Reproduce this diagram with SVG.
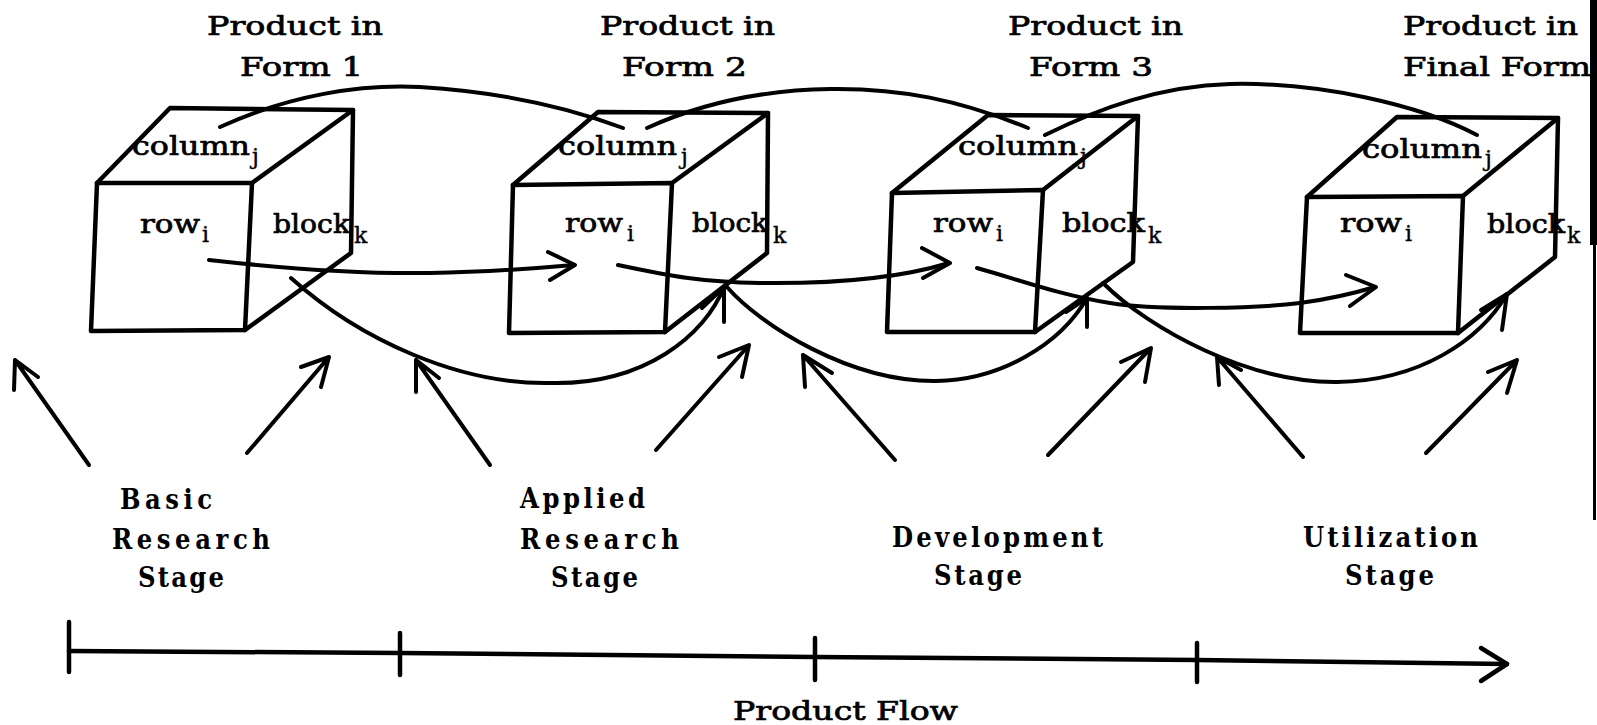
<svg xmlns="http://www.w3.org/2000/svg" width="1597" height="725" viewBox="0 0 1597 725">
<style>
.ln{fill:none;stroke:#000;stroke-width:4.5;stroke-linecap:round;stroke-linejoin:round}
.cn{fill:none;stroke:#000;stroke-width:4;stroke-linecap:round;stroke-linejoin:round}
.t{font-family:'DejaVu Serif','Liberation Serif',serif;font-size:26px;fill:#000;stroke:#000;stroke-width:0.7}
.sub{font-family:'DejaVu Serif','Liberation Serif',serif;font-size:22px;fill:#000;stroke:#000;stroke-width:0.4}
.st{font-family:'DejaVu Serif','Liberation Serif',serif;font-size:27px;font-weight:bold;font-stretch:condensed;fill:#000}
</style>
<rect width="1597" height="725" fill="#fff"/>

<g id="title1">
<text class="t" x="207" y="35" textLength="176" lengthAdjust="spacingAndGlyphs">Product in</text>
<text class="t" x="240" y="76" textLength="123" lengthAdjust="spacingAndGlyphs">Form 1</text>
</g>
<g id="title2">
<text class="t" x="600" y="35" textLength="175" lengthAdjust="spacingAndGlyphs">Product in</text>
<text class="t" x="622" y="76" textLength="125" lengthAdjust="spacingAndGlyphs">Form 2</text>
</g>
<g id="title3">
<text class="t" x="1008" y="35" textLength="175" lengthAdjust="spacingAndGlyphs">Product in</text>
<text class="t" x="1029" y="76" textLength="124" lengthAdjust="spacingAndGlyphs">Form 3</text>
</g>
<g id="title4">
<text class="t" x="1403" y="35" textLength="175" lengthAdjust="spacingAndGlyphs">Product in</text>
<text class="t" x="1403" y="76" textLength="188" lengthAdjust="spacingAndGlyphs">Final Form</text>
</g>

<g id="cube1">
<path class="ln" d="M97,183 L252,183 L245,330 L91,331 Z"/>
<path class="ln" d="M97,183 L170,108 L353,110 L252,183"/>
<path class="ln" d="M353,110 L351,253 L245,330"/>
<text class="t" x="132" y="155" textLength="118" lengthAdjust="spacingAndGlyphs">column</text>
<text class="sub" x="252" y="164">j</text>
<text class="t" x="140" y="233" textLength="60" lengthAdjust="spacingAndGlyphs">row</text>
<text class="sub" x="202" y="242">i</text>
<text class="t" x="273" y="233" textLength="77" lengthAdjust="spacingAndGlyphs">block</text>
<text class="sub" x="354" y="243">k</text>
</g>

<g id="cube2">
<path class="ln" d="M513,185 L672,183 L665,332 L509,333 Z"/>
<path class="ln" d="M513,185 L598,112 L768,113 L672,183"/>
<path class="ln" d="M768,113 L767,253 L665,332"/>
<text class="t" x="558" y="155" textLength="119" lengthAdjust="spacingAndGlyphs">column</text>
<text class="sub" x="681" y="164">j</text>
<text class="t" x="565" y="232" textLength="58" lengthAdjust="spacingAndGlyphs">row</text>
<text class="sub" x="627" y="241">i</text>
<text class="t" x="692" y="232" textLength="76" lengthAdjust="spacingAndGlyphs">block</text>
<text class="sub" x="773" y="243">k</text>
</g>

<g id="cube3">
<path class="ln" d="M892,193 L1043,190 L1035,332 L887,332 Z"/>
<path class="ln" d="M892,193 L988,115 L1138,116 L1043,190"/>
<path class="ln" d="M1138,116 L1133,262 L1035,332"/>
<text class="t" x="958" y="155" textLength="120" lengthAdjust="spacingAndGlyphs">column</text>
<text class="sub" x="1080" y="164">j</text>
<text class="t" x="933" y="232" textLength="60" lengthAdjust="spacingAndGlyphs">row</text>
<text class="sub" x="996" y="241">i</text>
<text class="t" x="1062" y="232" textLength="83" lengthAdjust="spacingAndGlyphs">block</text>
<text class="sub" x="1148" y="243">k</text>
</g>

<g id="cube4">
<path class="ln" d="M1307,197 L1463,196 L1458,333 L1300,333 Z"/>
<path class="ln" d="M1307,197 L1397,117 L1558,118 L1463,196"/>
<path class="ln" d="M1558,118 L1555,257 L1458,333"/>
<text class="t" x="1362" y="158" textLength="120" lengthAdjust="spacingAndGlyphs">column</text>
<text class="sub" x="1485" y="166">j</text>
<text class="t" x="1340" y="232" textLength="62" lengthAdjust="spacingAndGlyphs">row</text>
<text class="sub" x="1405" y="241">i</text>
<text class="t" x="1487" y="233" textLength="78" lengthAdjust="spacingAndGlyphs">block</text>
<text class="sub" x="1567" y="243">k</text>
</g>

<g id="stage1">
<text class="st" x="120" y="509" textLength="92" lengthAdjust="spacing">Basic</text>
<text class="st" x="112" y="549" textLength="158" lengthAdjust="spacing">Research</text>
<text class="st" x="138" y="587" textLength="86" lengthAdjust="spacing">Stage</text>
</g>
<g id="stage2">
<text class="st" x="520" y="508" textLength="125" lengthAdjust="spacing">Applied</text>
<text class="st" x="520" y="549" textLength="159" lengthAdjust="spacing">Research</text>
<text class="st" x="551" y="587" textLength="87" lengthAdjust="spacing">Stage</text>
</g>
<g id="stage3">
<text class="st" x="892" y="547" textLength="211" lengthAdjust="spacing">Development</text>
<text class="st" x="934" y="585" textLength="88" lengthAdjust="spacing">Stage</text>
</g>
<g id="stage4">
<text class="st" x="1303" y="547" textLength="175" lengthAdjust="spacing">Utilization</text>
<text class="st" x="1345" y="585" textLength="89" lengthAdjust="spacing">Stage</text>
</g>

<g id="flowlabel">
<text class="t" x="733" y="720" textLength="225" lengthAdjust="spacingAndGlyphs">Product Flow</text>
</g>

<g id="connectors">
<!-- column arcs -->
<path class="cn" d="M220,127 C290,95 360,84 420,87 C500,92 570,108 623,128"/>
<path class="cn" d="M647,128 C700,104 760,90 830,89 C900,88 960,100 1028,128"/>
<path class="cn" d="M1045,135 C1100,108 1160,86 1230,84 C1320,82 1420,105 1477,135"/>
<!-- row arrows -->
<path class="cn" d="M209,260 C280,268 360,274 430,273 C490,272 540,268 574,265"/>
<path class="cn" d="M548,252 L575,265 L550,280"/>
<path class="cn" d="M618,265 C670,276 700,282 760,283 C840,284 900,278 949,263"/>
<path class="cn" d="M922,248 L950,263 L923,278"/>
<path class="cn" d="M977,268 C1020,280 1060,295 1110,303 C1160,311 1260,308 1300,303 C1330,299 1355,293 1375,287"/>
<path class="cn" d="M1346,275 L1376,287 L1350,306"/>
<!-- block arcs -->
<path class="cn" d="M291,278 C360,340 460,385 551,383 C645,385 705,335 724,287"/>
<path class="cn" d="M724,287 L724,322 M724,287 L702,308"/>
<path class="cn" d="M727,287 C760,325 850,382 936,381 C1000,380 1060,345 1087,298"/>
<path class="cn" d="M1087,298 L1087,327 M1087,298 L1066,312"/>
<path class="cn" d="M1103,283 C1150,330 1250,383 1337,382 C1420,381 1480,340 1507,294"/>
<path class="cn" d="M1507,294 L1502,330 M1507,294 L1481,310"/>
<!-- stage arrows -->
<path class="cn" d="M89,465 L15,360 M15,360 L14,390 M15,360 L38,377"/>
<path class="cn" d="M247,453 L329,357 M329,357 L301,367 M329,357 L321,387"/>
<path class="cn" d="M490,465 L416,360 M416,360 L416,392 M416,360 L439,378"/>
<path class="cn" d="M656,450 L749,345 M749,345 L719,357 M749,345 L742,377"/>
<path class="cn" d="M895,460 L803,355 M803,355 L805,387 M803,355 L832,373"/>
<path class="cn" d="M1048,455 L1151,348 M1151,348 L1121,362 M1151,348 L1145,382"/>
<path class="cn" d="M1303,457 L1217,357 M1217,357 L1219,385 M1217,357 L1241,370"/>
<path class="cn" d="M1426,453 L1517,360 M1517,360 L1488,372 M1517,360 L1507,393"/>
<!-- product flow timeline -->
<path class="ln" d="M69,651 L400,653 L814,657 L1197,660 L1507,664"/>
<path class="ln" d="M69,622 L69,672 M400,633 L400,675 M815,638 L815,680 M1197,643 L1197,682"/>
<path class="ln" d="M1481,648 L1507,664 L1481,681"/>
</g>

<g id="edge">
<rect x="1590" y="0" width="7" height="245" fill="#000"/>
<rect x="1593" y="245" width="3" height="275" fill="#000"/>
</g>
</svg>
